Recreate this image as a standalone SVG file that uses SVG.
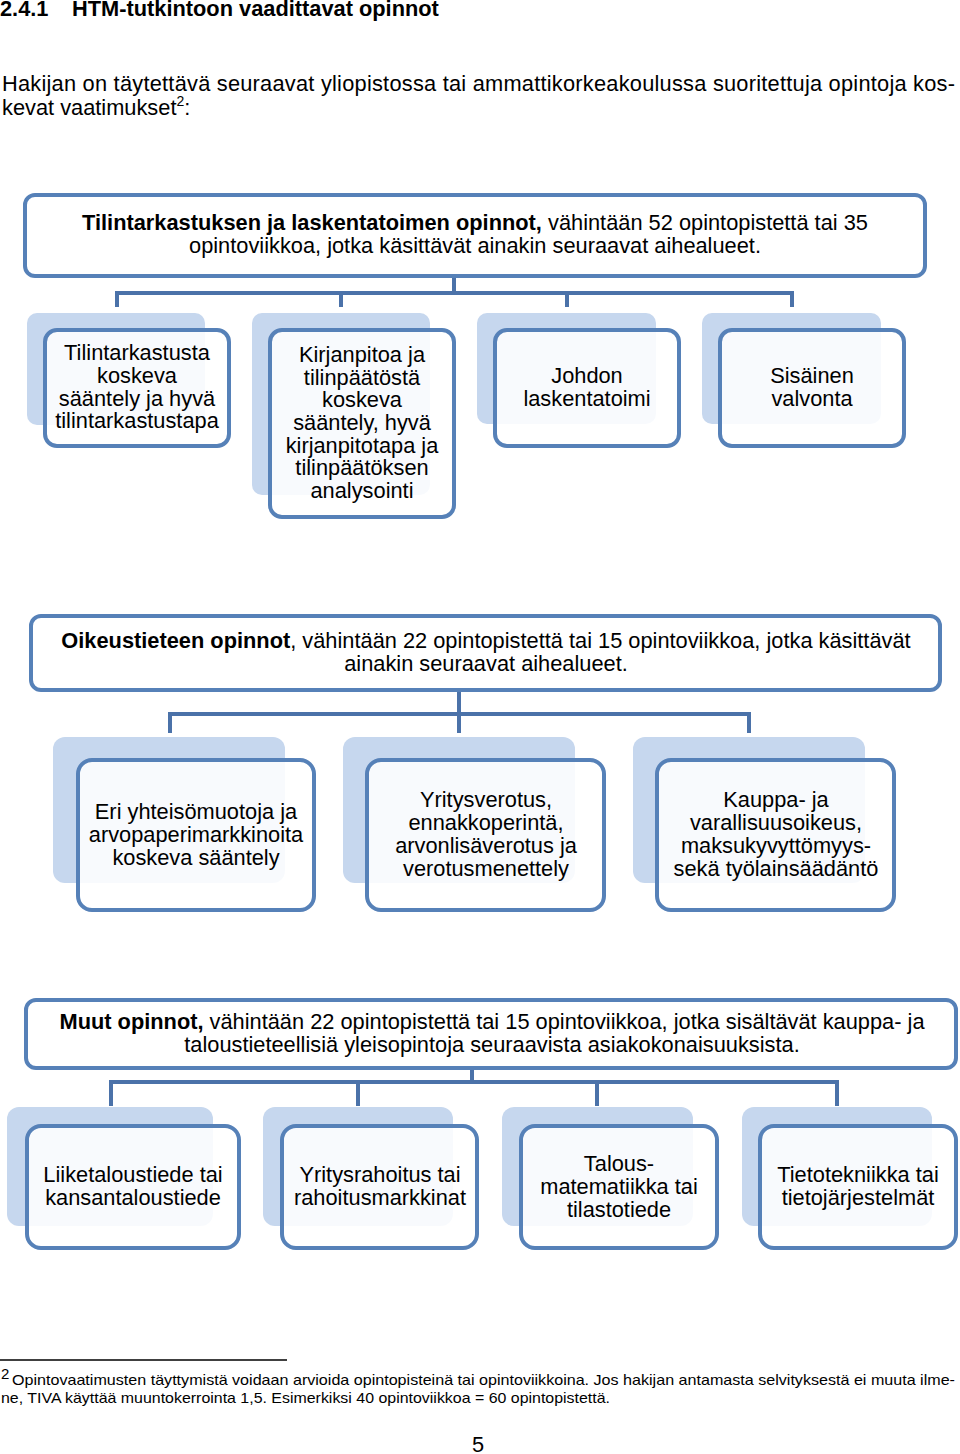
<svg xmlns="http://www.w3.org/2000/svg" width="960" height="1454" viewBox="0 0 960 1454">
<style>
text{font-family:"Liberation Sans",Arial,sans-serif;fill:#000}
.h{font-size:21.8px;font-weight:bold}
.p{font-size:21.8px}
.t{font-size:21.8px;text-anchor:middle}
.b{font-weight:bold}
.fn{font-size:15px}
.main{fill:#fff;stroke:#5681b8;stroke-width:4}
.sh{fill:#c6d7ee}
.fr{fill:#fff;fill-opacity:0.88;stroke:#5681b8;stroke-width:4}
.con{fill:none;stroke:#4b72a9;stroke-width:4}
.faint{stroke:#dde6f2;stroke-width:3}
</style>
<text class="h" x="0" y="16">2.4.1</text>
<text class="h" x="72" y="16">HTM-tutkintoon vaadittavat opinnot</text>
<text class="p" x="2" y="91" textLength="953" lengthAdjust="spacing">Hakijan on täytettävä seuraavat yliopistossa tai ammattikorkeakoulussa suoritettuja opintoja kos-</text>
<text class="p" x="2" y="115">kevat vaatimukset<tspan font-size="14" dy="-9">2</tspan><tspan dy="9">:</tspan></text>

<g id="connectors">
<line class="faint" x1="454" y1="266" x2="454" y2="277"/>
<path class="con" d="M454 277V293M117 307V293H792V307M341 293V307M567 293V307"/>
<line class="faint" x1="459" y1="677" x2="459" y2="690"/>
<path class="con" d="M459 690V714M170 733V714H749V733M459 714V733"/>
<line class="faint" x1="472" y1="1056" x2="472" y2="1068"/>
<path class="con" d="M472 1068V1082M111 1106V1082H837V1106M358 1082V1106M597 1082V1106"/>
</g>

<g id="n-top1">
<rect class="main" x="25" y="195" width="900" height="81" rx="10"/>
<text class="t" x="475" y="230"><tspan class="b">Tilintarkastuksen ja laskentatoimen opinnot,</tspan> vähintään 52 opintopistettä tai 35</text>
<text class="t" x="475" y="253">opintoviikkoa, jotka käsittävät ainakin seuraavat aihealueet.</text>
</g>
<g id="n-c1">
<rect class="sh" x="27" y="313" width="178" height="112" rx="10"/>
<rect class="fr" x="45" y="330" width="184" height="116" rx="12"/>
<text class="t" x="137" y="360">Tilintarkastusta</text>
<text class="t" x="137" y="383">koskeva</text>
<text class="t" x="137" y="406">sääntely ja hyvä</text>
<text class="t" x="137" y="428">tilintarkastustapa</text>
</g>
<g id="n-c2">
<rect class="sh" x="252" y="313" width="178" height="182" rx="10"/>
<rect class="fr" x="270" y="330" width="184" height="187" rx="12"/>
<text class="t" x="362" y="362">Kirjanpitoa ja</text>
<text class="t" x="362" y="385">tilinpäätöstä</text>
<text class="t" x="362" y="407">koskeva</text>
<text class="t" x="362" y="430">sääntely, hyvä</text>
<text class="t" x="362" y="453">kirjanpitotapa ja</text>
<text class="t" x="362" y="475">tilinpäätöksen</text>
<text class="t" x="362" y="498">analysointi</text>
</g>
<g id="n-c3">
<rect class="sh" x="477" y="313" width="179" height="111" rx="10"/>
<rect class="fr" x="495" y="330" width="184" height="116" rx="12"/>
<text class="t" x="587" y="383">Johdon</text>
<text class="t" x="587" y="406">laskentatoimi</text>
</g>
<g id="n-c4">
<rect class="sh" x="702" y="313" width="179" height="111" rx="10"/>
<rect class="fr" x="720" y="330" width="184" height="116" rx="12"/>
<text class="t" x="812" y="383">Sisäinen</text>
<text class="t" x="812" y="406">valvonta</text>
</g>

<g id="n-top2">
<rect class="main" x="31" y="616" width="909" height="74" rx="10"/>
<text class="t" x="486" y="648"><tspan class="b">Oikeustieteen opinnot</tspan>, vähintään 22 opintopistettä tai 15 opintoviikkoa, jotka käsittävät</text>
<text class="t" x="486" y="671">ainakin seuraavat aihealueet.</text>
</g>
<g id="n-d1">
<rect class="sh" x="53" y="737" width="232" height="146" rx="12"/>
<rect class="fr" x="78" y="760" width="236" height="150" rx="14"/>
<text class="t" x="196" y="819">Eri yhteisömuotoja ja</text>
<text class="t" x="196" y="842">arvopaperimarkkinoita</text>
<text class="t" x="196" y="865">koskeva sääntely</text>
</g>
<g id="n-d2">
<rect class="sh" x="343" y="737" width="232" height="146" rx="12"/>
<rect class="fr" x="367" y="760" width="237" height="150" rx="14"/>
<text class="t" x="486" y="807">Yritysverotus,</text>
<text class="t" x="486" y="830">ennakkoperintä,</text>
<text class="t" x="486" y="853">arvonlisäverotus ja</text>
<text class="t" x="486" y="876">verotusmenettely</text>
</g>
<g id="n-d3">
<rect class="sh" x="633" y="737" width="232" height="146" rx="12"/>
<rect class="fr" x="657" y="760" width="237" height="150" rx="14"/>
<text class="t" x="776" y="807">Kauppa- ja</text>
<text class="t" x="776" y="830">varallisuusoikeus,</text>
<text class="t" x="776" y="853">maksukyvyttömyys-</text>
<text class="t" x="776" y="876">sekä työlainsäädäntö</text>
</g>

<g id="n-top3">
<rect class="main" x="26" y="1000" width="930" height="68" rx="10"/>
<text class="t" x="492" y="1029"><tspan class="b">Muut opinnot,</tspan> vähintään 22 opintopistettä tai 15 opintoviikkoa, jotka sisältävät kauppa- ja</text>
<text class="t" x="492" y="1052">taloustieteellisiä yleisopintoja seuraavista asiakokonaisuuksista.</text>
</g>
<g id="n-e1">
<rect class="sh" x="7" y="1107" width="206" height="119" rx="12"/>
<rect class="fr" x="27" y="1126" width="212" height="122" rx="14"/>
<text class="t" x="133" y="1182">Liiketaloustiede tai</text>
<text class="t" x="133" y="1205">kansantaloustiede</text>
</g>
<g id="n-e2">
<rect class="sh" x="263" y="1107" width="190" height="119" rx="12"/>
<rect class="fr" x="282" y="1126" width="195" height="122" rx="14"/>
<text class="t" x="380" y="1182">Yritysrahoitus tai</text>
<text class="t" x="380" y="1205">rahoitusmarkkinat</text>
</g>
<g id="n-e3">
<rect class="sh" x="502" y="1107" width="191" height="119" rx="12"/>
<rect class="fr" x="521" y="1126" width="196" height="122" rx="14"/>
<text class="t" x="619" y="1171">Talous-</text>
<text class="t" x="619" y="1194">matematiikka tai</text>
<text class="t" x="619" y="1217">tilastotiede</text>
</g>
<g id="n-e4">
<rect class="sh" x="742" y="1107" width="190" height="119" rx="12"/>
<rect class="fr" x="760" y="1126" width="196" height="122" rx="14"/>
<text class="t" x="858" y="1182">Tietotekniikka tai</text>
<text class="t" x="858" y="1205">tietojärjestelmät</text>
</g>

<line x1="0" y1="1360" x2="287" y2="1360" stroke="#000" stroke-width="1.3"/>
<text class="fn" x="1" y="1379" font-size="10">2</text>
<text class="fn" x="12" y="1385" textLength="943" lengthAdjust="spacingAndGlyphs">Opintovaatimusten täyttymistä voidaan arvioida opintopisteinä tai opintoviikkoina. Jos hakijan antamasta selvityksestä ei muuta ilme-</text>
<text class="fn" x="1" y="1403" textLength="609" lengthAdjust="spacingAndGlyphs">ne, TIVA käyttää muuntokerrointa 1,5. Esimerkiksi 40 opintoviikkoa = 60 opintopistettä.</text>
<text class="p" x="478" y="1452" text-anchor="middle">5</text>
</svg>
